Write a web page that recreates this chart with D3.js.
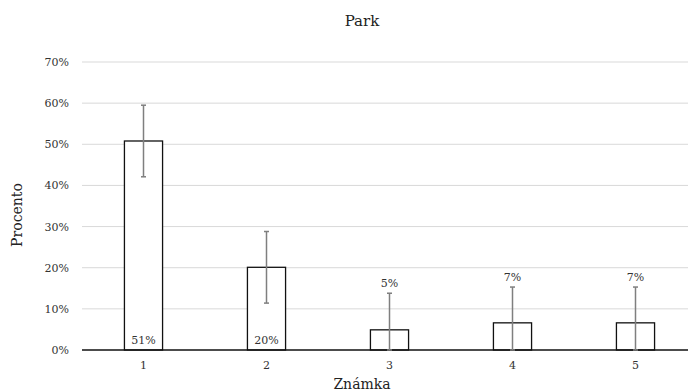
<!DOCTYPE html>
<html><head><meta charset="utf-8">
<script src="https://cdn.jsdelivr.net/npm/d3@7"></script>
<style>body{margin:0;background:#fff}svg{display:block}text{font-family:"DejaVu Serif",serif}</style>
</head><body><svg id="c" width="688" height="392"></svg>
<script>
const categories = ["1","2","3","4","5"];
const values = [0.508, 0.201, 0.049, 0.066, 0.066];
const errors = [0.087, 0.087, 0.089, 0.087, 0.087];
const labels = ["51%","20%","5%","7%","7%"];
const labelInside = [true, true, false, false, false];
const yTicks = [0,0.1,0.2,0.3,0.4,0.5,0.6,0.7];

const svg = d3.select("#c");
const x = d3.scaleBand().domain(categories).range([82, 697]).paddingInner(0.69).paddingOuter(0.345);
const y = d3.scaleLinear().domain([0, 0.7]).range([350, 62]);

svg.append("text").attr("x", 362).attr("y", 26).attr("text-anchor","middle")
  .attr("font-size", 15).attr("fill","#222").text("Park");

const grid = svg.append("g");
grid.selectAll("line").data(yTicks.filter(d=>d>0)).join("line")
  .attr("x1",82).attr("x2",688).attr("y1",d=>y(d)).attr("y2",d=>y(d))
  .attr("stroke","#d9d9d9").attr("stroke-width",1);

const yAxis = svg.append("g").attr("transform","translate(82,0)")
  .call(d3.axisLeft(y).tickValues(yTicks).tickFormat(d3.format(".0%")).tickSize(0).tickPadding(13));
yAxis.select(".domain").remove();
yAxis.selectAll("text").attr("font-size",11).attr("fill","#333");

svg.selectAll("rect.bar").data(values).join("rect").attr("class","bar")
  .attr("x",(d,i)=>x(categories[i])).attr("width",x.bandwidth())
  .attr("y",d=>y(d)).attr("height",d=>y(0)-y(d))
  .attr("fill","#fff").attr("stroke","#111").attr("stroke-width",1.3);

const xAxis = svg.append("g").attr("transform","translate(0,350)")
  .call(d3.axisBottom(x).tickSize(0).tickPadding(11));
xAxis.select(".domain").remove();
xAxis.selectAll("text").attr("font-size",11).attr("fill","#333");
svg.append("line").attr("x1",82).attr("x2",688).attr("y1",350).attr("y2",350)
  .attr("stroke","#111").attr("stroke-width",1.5);

const eb = svg.append("g").attr("stroke","#7f7f7f").attr("stroke-width",1.5);
values.forEach((v,i)=>{
  const cx = x(categories[i]) + x.bandwidth()/2;
  const hi = y(v+errors[i]), lo = y(Math.max(0, v-errors[i]));
  eb.append("line").attr("x1",cx).attr("x2",cx).attr("y1",hi).attr("y2",lo);
  eb.append("line").attr("x1",cx-2.5).attr("x2",cx+2.5).attr("y1",hi).attr("y2",hi);
  eb.append("line").attr("x1",cx-2.5).attr("x2",cx+2.5).attr("y1",lo).attr("y2",lo);
});

svg.selectAll("text.lbl").data(values).join("text").attr("class","lbl")
  .attr("x",(d,i)=>x(categories[i]) + x.bandwidth()/2)
  .attr("y",(d,i)=>labelInside[i] ? y(0)-6 : y(d+errors[i])-6)
  .attr("text-anchor","middle").attr("font-size",11).attr("fill","#333")
  .text((d,i)=>labels[i]);

svg.append("text").attr("transform","translate(22,215) rotate(-90)").attr("text-anchor","middle")
  .attr("font-size",14).attr("fill","#222").text("Procento");
svg.append("text").attr("x",362).attr("y",389).attr("text-anchor","middle")
  .attr("font-size",14).attr("fill","#222").text("Známka");
</script></body></html>
